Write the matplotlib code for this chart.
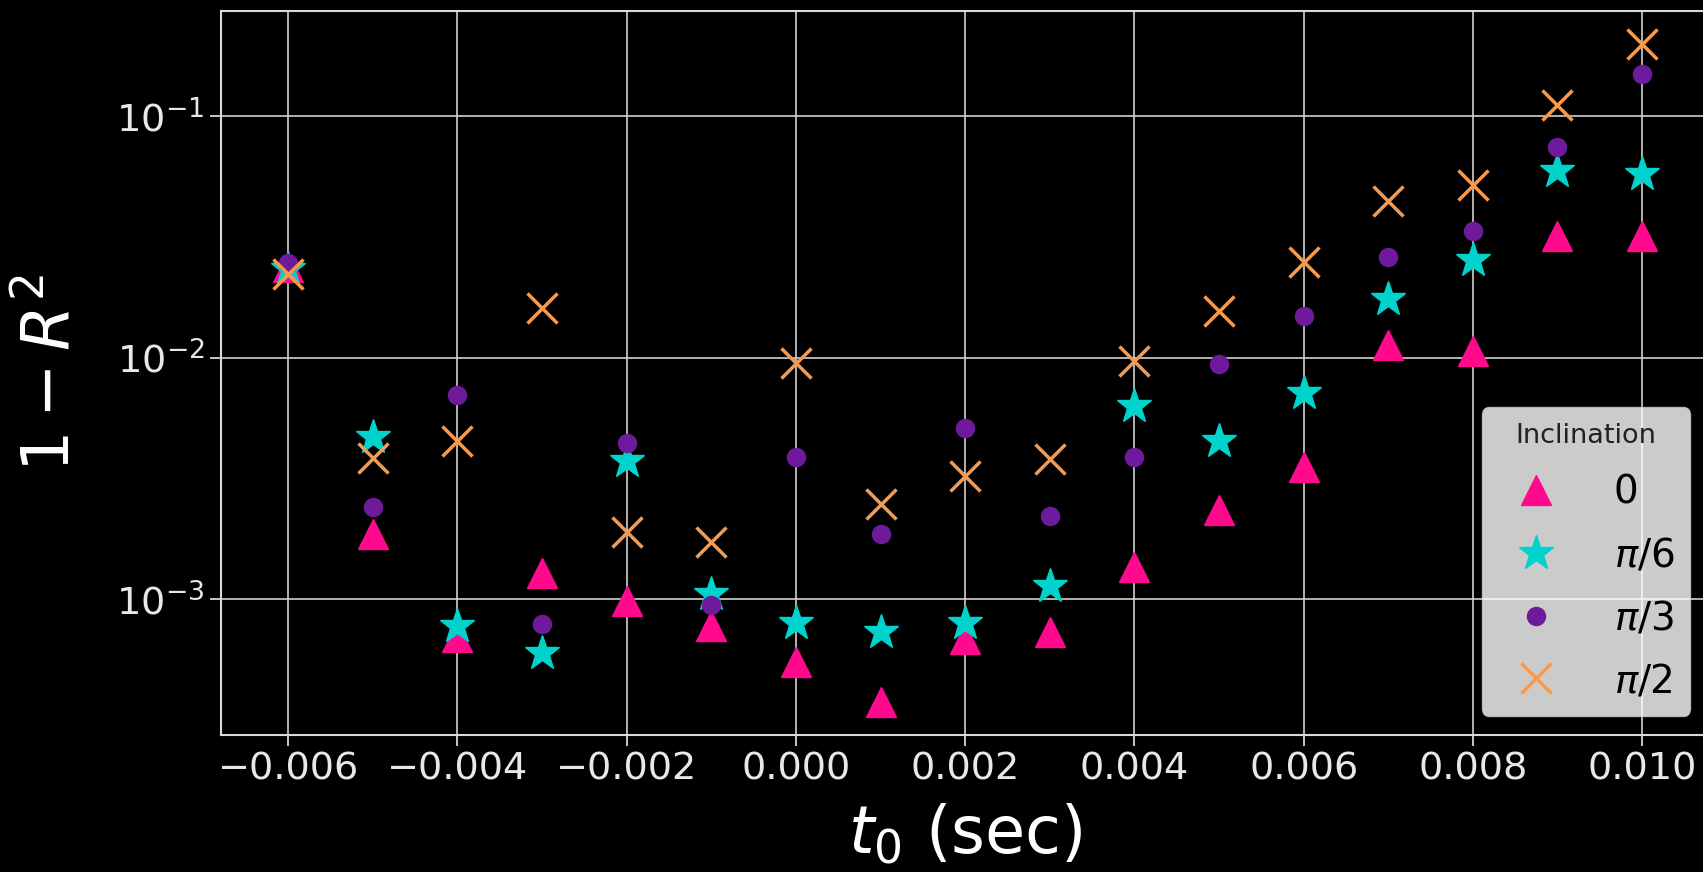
import matplotlib
matplotlib.use("Agg")
import matplotlib.pyplot as plt
import numpy as np

t0 = [-0.006, -0.005, -0.004, -0.003, -0.002, -0.001, 0.000, 0.001, 0.002,
      0.003, 0.004, 0.005, 0.006, 0.007, 0.008, 0.009, 0.010]

inc_0 = [0.0238, 0.00186, 0.000697, 0.00129, 0.00098, 0.000773, 0.00055, 0.000375,
         0.000683, 0.000733, 0.00136, 0.00233, 0.00352, 0.0113, 0.0106, 0.0318, 0.0318]
inc_pi6 = [0.0233, 0.00471, 0.000773, 0.000597, 0.00372, 0.00105, 0.000796, 0.000733,
           0.000796, 0.00113, 0.00628, 0.00452, 0.00711, 0.01746, 0.0254, 0.059, 0.0573]
inc_pi3 = [0.0246, 0.00240, 0.00697, 0.000788, 0.00443, 0.00095, 0.00386, 0.00186,
           0.00512, 0.00221, 0.00386, 0.0094, 0.0148, 0.0261, 0.0335, 0.0741, 0.1496]
inc_pi2 = [0.0221, 0.00383, 0.00452, 0.0161, 0.00190, 0.00173, 0.0095, 0.00248,
           0.00325, 0.00379, 0.0097, 0.0156, 0.0248, 0.0443, 0.0516, 0.111, 0.198]

labels = ["0", r"$\pi/6$", r"$\pi/3$", r"$\pi/2$"]

plt.style.use("dark_background")
fig = plt.figure(figsize=(17.03, 8.72), dpi=100)
ax = fig.add_axes([0.1295, 0.157, 1.004 - 0.1295, 0.987 - 0.157])

ax.plot(t0, inc_0, linestyle="none", marker="^", ms=22, color="#ff0a8c", label=labels[0])
ax.plot(t0, inc_pi6, linestyle="none", marker="*", ms=26, color="#00d2cc", label=labels[1])
ax.plot(t0, inc_pi3, linestyle="none", marker="o", ms=13, color="#6f1a9c", label=labels[2])
ax.plot(t0, inc_pi2, linestyle="none", marker="x", ms=21, mew=2.5, color="#f59a4e", label=labels[3])

ax.set_yscale("log")
ax.minorticks_off()
ax.grid(True, color="#d0d0d0", linewidth=1.2)
ax.set_axisbelow(True)
for s in ax.spines.values():
    s.set_color("#d8d8d8")
    s.set_linewidth(1.5)

ax.tick_params(axis="both", which="major", labelsize=27.5, length=8, width=1.2, colors="#e8e8e8")
ax.set_xticks([-0.006, -0.004, -0.002, 0.000, 0.002, 0.004, 0.006, 0.008, 0.010])
ax.set_xlabel(r"$t_0$ (sec)", fontsize=47, color="white", labelpad=11)
ax.set_ylabel(r"$1-R^2$", fontsize=47, color="white", labelpad=24)

leg = ax.legend(title="Inclination", loc="lower right", fontsize=28, title_fontsize=19.5,
                facecolor="white", framealpha=0.8, edgecolor="#cccccc", labelcolor="black",
                borderaxespad=0.5, handletextpad=1.0, labelspacing=0.64)
leg.get_title().set_color("#222222")

fig.savefig("out.png", dpi=100, facecolor="black")
